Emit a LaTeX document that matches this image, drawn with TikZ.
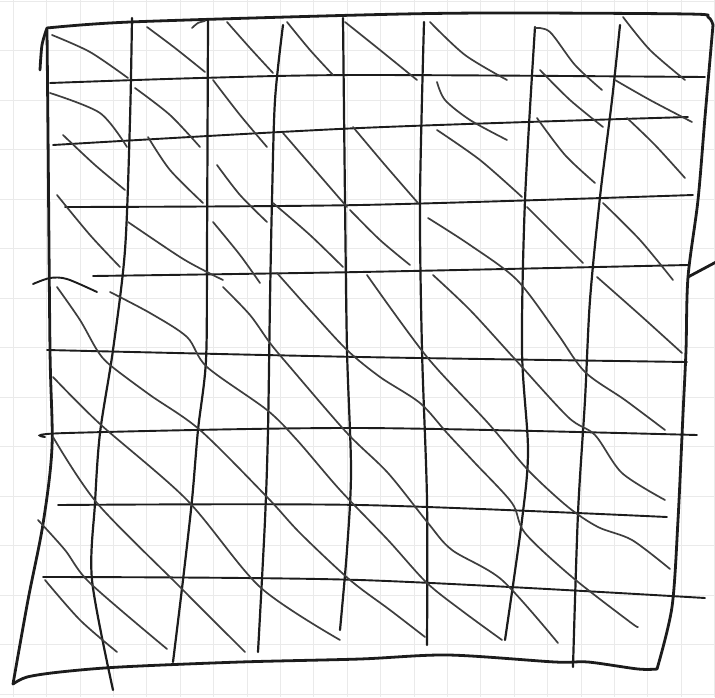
\documentclass[tikz,border=0pt]{standalone}
\usepackage{tikz}
\definecolor{pencil}{RGB}{28,28,28}
\definecolor{paperGrid}{RGB}{234,234,234}

\begin{document}
\begin{tikzpicture}[x=1pt,y=-1pt,
    border/.style={pencil, line width=2.8pt, line cap=round, line join=round},
    vline/.style={pencil, line width=2.2pt, line cap=round},
    hline/.style={pencil, line width=1.9pt, line cap=round},
    diag/.style={pencil!85, line width=1.7pt, line cap=round},
    paper/.style={paperGrid, line width=0.6pt}]
  \useasboundingbox (0,0) rectangle (715,697);
  \fill[white] (0,0) rectangle (715,697);

  % Graph paper
  \foreach \gx in {0,...,21} \draw[paper] (13+33.4*\gx,0) -- (13+33.4*\gx,697);
  \foreach \gy in {0,...,14} \draw[paper] (0,1+49.5*\gy) -- (715,1+49.5*\gy);

  % Frame
  \draw[border] plot[smooth] coordinates {(47,28) (130,22) (360,15) (488,13) (688,14) (708,17) (713,25)};
  \draw[border] plot[smooth] coordinates {(713,25) (705,117) (698,200) (688,277) (686,350) (683,414) (678,520) (672,607) (657,669)};
  \draw[border] plot[smooth] coordinates {(657,669) (638,669) (588,662) (555,662) (448,655) (360,659) (240,662) (120,667) (60,672) (27,677) (13,684)};
  \draw[border] plot[smooth] coordinates {(13,684) (28,600) (43,524) (52,447) (50,350) (48,133) (47,30)};
  \draw[border] plot[smooth] coordinates {(47,28) (42,45) (40,70)};
  \draw[border] (688,277) -- (718,261);

  % Columns
  \draw[vline] plot[smooth] coordinates {(132,18) (130,120) (125,250) (113,350) (100,433) (95,503) (92,580) (113,690)};
  \draw[vline] plot[smooth] coordinates {(208,20) (207,250) (206,360) (198,430) (192,500) (183,580) (173,662)};
  \draw[vline] plot[smooth] coordinates {(283,25) (275,100) (272,200) (270,300) (268,430) (265,520) (258,652)};
  \draw[vline] plot[smooth] coordinates {(343,18) (345,200) (347,350) (351,470) (347,550) (340,630)};
  \draw[vline] plot[smooth] coordinates {(424,22) (420,200) (422,350) (427,500) (427,645)};
  \draw[vline] plot[smooth] coordinates {(535,27) (525,200) (522,350) (528,450) (522,520) (505,640)};
  \draw[vline] plot[smooth] coordinates {(620,25) (612,100) (600,197) (590,300) (585,400) (578,513) (573,667)};

  % Rows
  \draw[hline] plot[smooth] coordinates {(50,83) (200,78) (360,75) (705,77)};
  \draw[hline] plot[smooth] coordinates {(53,145) (360,128) (688,117)};
  \draw[hline] plot[smooth] coordinates {(65,207) (360,205) (693,195)};
  \draw[hline] plot[smooth] coordinates {(33,284) (50,278) (67,279) (97,292)};
  \draw[hline] plot[smooth] coordinates {(93,276) (360,272) (688,265)};
  \draw[hline] plot[smooth] coordinates {(47,350) (360,357) (687,362)};
  \draw[hline] plot[smooth] coordinates {(45,437) (67,433) (360,428) (697,435)};
  \draw[hline] plot[smooth] coordinates {(58,505) (360,505) (667,517)};
  \draw[hline] plot[smooth] coordinates {(43,577) (360,580) (705,598)};

  % Short diagonals, top rows
  \draw[diag] plot[smooth] coordinates {(52,35) (90,52) (128,78)};
  \draw[diag] plot[smooth] coordinates {(147,27) (175,48) (205,72)};
  \draw[diag] plot[smooth] coordinates {(192,28) (198,23) (205,21)};
  \draw[diag] plot[smooth] coordinates {(227,22) (250,48) (273,73)};
  \draw[diag] plot[smooth] coordinates {(287,22) (310,50) (333,75)};
  \draw[diag] plot[smooth] coordinates {(345,22) (380,50) (417,80)};
  \draw[diag] plot[smooth] coordinates {(430,22) (465,55) (507,80)};
  \draw[diag] plot[smooth] coordinates {(535,28) (550,32) (575,65) (602,90)};
  \draw[diag] plot[smooth] coordinates {(623,17) (650,50) (685,80)};

  \draw[diag] plot[smooth] coordinates {(50,93) (100,113) (127,147)};
  \draw[diag] plot[smooth] coordinates {(135,88) (170,115) (200,147)};
  \draw[diag] plot[smooth] coordinates {(213,80) (240,115) (267,147)};
  \draw[diag] plot[smooth] coordinates {(437,82) (445,100) (470,120) (507,140)};
  \draw[diag] plot[smooth] coordinates {(540,70) (570,100) (603,127)};
  \draw[diag] plot[smooth] coordinates {(615,80) (650,100) (692,122)};

  \draw[diag] plot[smooth] coordinates {(63,135) (95,165) (125,190)};
  \draw[diag] plot[smooth] coordinates {(148,137) (170,170) (203,203)};
  \draw[diag] plot[smooth] coordinates {(217,165) (240,195) (267,222)};
  \draw[diag] plot[smooth] coordinates {(283,133) (315,170) (347,207)};
  \draw[diag] plot[smooth] coordinates {(353,127) (385,165) (418,203)};
  \draw[diag] plot[smooth] coordinates {(437,130) (480,160) (522,197)};
  \draw[diag] plot[smooth] coordinates {(537,118) (565,155) (595,183)};
  \draw[diag] plot[smooth] coordinates {(627,118) (655,145) (685,178)};

  \draw[diag] plot[smooth] coordinates {(57,195) (90,235) (120,267)};
  \draw[diag] plot[smooth] coordinates {(128,222) (180,257) (207,272) (223,280)};
  \draw[diag] plot[smooth] coordinates {(213,222) (240,255) (260,283)};
  \draw[diag] plot[smooth] coordinates {(273,203) (310,235) (343,267)};
  \draw[diag] plot[smooth] coordinates {(350,210) (380,240) (410,265)};
  \draw[diag] plot[smooth] coordinates {(527,207) (555,235) (583,263)};
  \draw[diag] plot[smooth] coordinates {(603,203) (640,240) (673,280)};
  \draw[diag] plot[smooth] coordinates {(597,277) (640,315) (682,353)};

  % Long diagonals, lower part
  \draw[diag] plot[smooth] coordinates {(428,218) (470,245) (517,280) (557,333) (585,372) (625,400) (665,430)};
  \draw[diag] plot[smooth] coordinates {(433,275) (470,310) (513,357) (568,417) (595,435) (622,473) (665,500)};
  \draw[diag] plot[smooth] coordinates {(367,275) (427,357) (488,423) (528,470) (568,507) (598,527) (632,540) (670,569)};
  \draw[diag] plot[smooth] coordinates {(277,273) (310,310) (347,350) (380,377) (420,403) (447,433) (475,463) (512,503) (525,533) (572,577) (630,622) (638,627)};
  \draw[diag] plot[smooth] coordinates {(223,287) (250,315) (270,343) (290,367) (347,433) (388,473) (428,523) (452,550) (502,580) (558,643)};
  \draw[diag] plot[smooth] coordinates {(110,292) (150,313) (187,337) (207,367) (267,410) (297,440) (340,490) (388,540) (427,583) (465,613) (502,640)};
  \draw[diag] plot[smooth] coordinates {(57,287) (80,320) (97,350) (110,365) (150,395) (200,430) (267,497) (300,533) (350,580) (390,610) (425,637)};
  \draw[diag] plot[smooth] coordinates {(53,377) (100,424) (187,500) (260,587) (340,640)};
  \draw[diag] plot[smooth] coordinates {(53,437) (97,503) (180,587) (245,652)};
  \draw[diag] plot[smooth] coordinates {(38,520) (65,550) (90,583) (167,649)};
  \draw[diag] plot[smooth] coordinates {(45,580) (80,620) (117,652)};
\end{tikzpicture}
\end{document}
